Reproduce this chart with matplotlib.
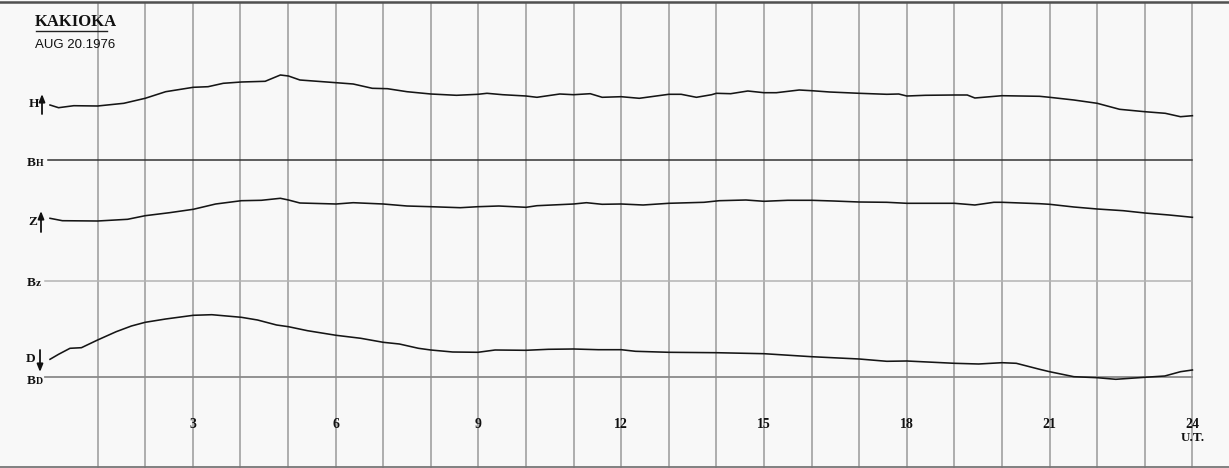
"""Kakioka magnetogram, 20 Aug 1976 — H, Z, D traces over 24 h UT."""
import matplotlib
matplotlib.use("Agg")
import matplotlib.pyplot as plt
import numpy as np

# --- trace data: hour (UT) and height of trace above its baseline (chart rows) ---
H_hours = [0.0, 0.18, 0.5, 1.0, 1.55, 2.0, 2.43, 3.01, 3.32, 3.64, 4.02, 4.52, 4.84, 5.01,
           5.25, 6.01, 6.37, 6.77, 7.09, 7.5, 8.0, 8.54, 8.99, 9.18, 9.51, 10.0, 10.23,
           10.71, 11.0, 11.35, 11.6, 12.0, 12.38, 13.0, 13.26, 13.58, 13.9, 14.0, 14.3,
           14.66, 15.0, 15.26, 15.74, 16.0, 16.38, 17.0, 17.58, 17.83, 18.0, 18.39, 19.0,
           19.27, 19.43, 20.0, 20.39, 20.79, 21.0, 21.51, 22.0, 22.47, 23.0, 23.43, 23.75, 24.0]
H_vals = [55.0, 52.3, 54.3, 54.0, 56.7, 61.7, 68.3, 72.7, 73.3, 76.7, 78.0, 78.7, 85.0, 84.0,
          80.0, 77.3, 76.0, 71.7, 71.3, 68.3, 66.0, 64.7, 65.7, 66.7, 65.3, 64.0, 62.7,
          66.0, 65.3, 66.3, 62.7, 63.3, 61.7, 65.7, 65.7, 62.7, 65.3, 66.7, 66.3,
          69.0, 67.3, 67.3, 70.0, 69.3, 68.0, 66.7, 65.7, 66.0, 64.0, 64.7, 65.0,
          65.0, 62.0, 64.3, 64.0, 63.7, 62.7, 60.0, 56.7, 50.7, 48.3, 46.7, 43.3, 44.3]

Z_hours = [0.0, 0.26, 1.0, 1.63, 2.0, 2.51, 3.01, 3.48, 4.02, 4.44, 4.84, 5.01, 5.25, 6.01,
           6.37, 7.0, 7.5, 8.0, 8.62, 8.99, 9.43, 10.0, 10.23, 11.0, 11.27, 11.6, 12.0,
           12.46, 13.0, 13.74, 14.06, 14.62, 15.0, 15.5, 16.0, 16.46, 17.0, 17.58, 18.0,
           19.0, 19.43, 19.83, 20.0, 20.79, 21.0, 21.51, 22.0, 22.55, 23.0, 23.51, 24.0]
Z_vals = [62.7, 60.3, 60.0, 61.7, 65.3, 68.3, 71.7, 77.0, 80.3, 80.7, 82.7, 81.0, 78.0, 77.0,
          78.3, 77.0, 75.0, 74.3, 73.3, 74.3, 75.0, 73.7, 75.3, 77.0, 78.3, 76.7, 77.0,
          76.0, 77.7, 78.7, 80.3, 81.0, 79.7, 80.7, 80.7, 80.0, 79.0, 78.7, 77.7,
          77.7, 76.0, 78.7, 78.7, 77.3, 76.7, 74.0, 72.0, 70.3, 68.0, 66.0, 63.7]

D_hours = [0.0, 0.18, 0.42, 0.66, 1.0, 1.39, 1.71, 2.0, 2.43, 3.01, 3.4, 4.02, 4.36, 4.76,
           5.01, 5.41, 6.01, 6.53, 7.0, 7.34, 7.74, 8.0, 8.46, 8.99, 9.35, 10.0, 10.47,
           11.0, 11.52, 12.0, 12.3, 13.0, 14.0, 15.0, 16.0, 17.0, 17.58, 18.0, 19.0,
           19.51, 20.0, 20.3, 20.79, 21.0, 21.51, 22.0, 22.39, 23.0, 23.42, 23.75, 24.0]
D_vals = [17.7, 22.7, 28.7, 29.3, 37.0, 45.3, 51.0, 54.7, 58.0, 61.7, 62.3, 59.7, 57.0, 52.0,
          50.3, 46.3, 41.7, 38.7, 34.7, 33.0, 28.7, 27.0, 25.0, 24.7, 27.0, 26.7, 27.7,
          28.0, 27.3, 27.3, 25.7, 24.7, 24.3, 23.3, 20.3, 18.0, 15.7, 16.0, 13.7,
          13.0, 14.3, 13.7, 7.7, 5.3, 0.3, -0.7, -2.3, -0.3, 1.0, 5.3, 7.0]

hour_labels = ["3", "6", "9", "12", "15", "18", "21", "24"]
hour_ticks = [3, 6, 9, 12, 15, 18, 21, 24]

W, Hh = 1229, 468
BG = "#f8f8f8"

# chart rows of the three baselines (measured from the top of the sheet)
base = {"H": 160, "Z": 281, "D": 377}

fig = plt.figure(figsize=(W / 100, Hh / 100), dpi=100, facecolor=BG)
ax = fig.add_axes([0, 0, 1, 1])
ax.set_facecolor(BG)
x0, dx = 50.0, 47.6  # pixel of 0 UT, pixels per hour
ax.set_xlim(-x0 / dx, (W - x0) / dx)
ax.set_ylim(Hh, 0)
ax.axis("off")

def fx(px):
    return (px - x0) / dx

# hour grid
for h in range(1, 25):
    ax.plot([h, h], [4, Hh], color="#a8a8a8", lw=1.3, zorder=1)
ax.axhline(1.5, color="#505050", lw=1.8)
ax.axhline(Hh - 1.5, color="#777777", lw=1.3)

# baselines
ax.plot([fx(48), 24], [base["H"]] * 2, color="#333333", lw=1.1, zorder=2)
ax.plot([fx(45), 24], [base["Z"]] * 2, color="#b4b4b4", lw=1.1, zorder=2)
ax.plot([fx(45), 24], [base["D"]] * 2, color="#8a8a8a", lw=1.3, zorder=2)

# traces (upward = smaller row number)
kw = dict(color="#151515", lw=1.15, zorder=3, solid_joinstyle="round")
ax.plot(H_hours, base["H"] - np.array(H_vals), **kw)
ax.plot(Z_hours, base["Z"] - np.array(Z_vals), **kw)
ax.plot(D_hours, base["D"] - np.array(D_vals), **kw)

serif = "Liberation Serif"

def px(x, y):
    return x / W, 1 - y / Hh

# title block
fig.text(*px(35, 22), "KAKIOKA", family=serif, weight="bold", fontsize=12,
         va="center", ha="left", color="#111111")
ax.plot([fx(36), fx(107)], [30.5, 30.5], color="#222222", lw=1.0)
fig.text(*px(35, 45), "AUG 20.1976", family="Liberation Sans", fontsize=9.5,
         va="center", ha="left", color="#111111")

# component labels
lab = dict(family=serif, weight="bold", fontsize=9.5, va="center", ha="left", color="#111111")
fig.text(*px(29, 104), "H", **lab)
fig.text(*px(28, 222), "Z", **lab)
fig.text(*px(26, 359), "D", **lab)
fig.text(*px(27, 163), "B", **lab)
fig.text(*px(35.5, 164), "H", **{**lab, "fontsize": 7})
fig.text(*px(27, 283), "B", **lab)
fig.text(*px(35.5, 284), "z", **{**lab, "fontsize": 8})
fig.text(*px(27, 381), "B", **lab)
fig.text(*px(35.5, 382), "D", **{**lab, "fontsize": 7})

arr = dict(arrowstyle="-|>,head_length=0.45,head_width=0.18", color="#111111", lw=1.3,
           shrinkA=0, shrinkB=0)
ax.annotate("", xy=(fx(42), 94), xytext=(fx(42), 114), arrowprops=arr)
ax.annotate("", xy=(fx(41), 211), xytext=(fx(41), 232), arrowprops=arr)
ax.annotate("", xy=(fx(40), 372), xytext=(fx(40), 350), arrowprops=arr)

# hour labels
for h, t in zip(hour_ticks, hour_labels):
    ax.text(h, 425, t, family=serif, weight="bold", fontsize=10, ha="center", va="center",
            color="#111111")
ax.text(24, 438, "U.T.", family=serif, weight="bold", fontsize=9.5, ha="center", va="center",
        color="#111111")

fig.savefig("out.png", dpi=100, facecolor=BG)
